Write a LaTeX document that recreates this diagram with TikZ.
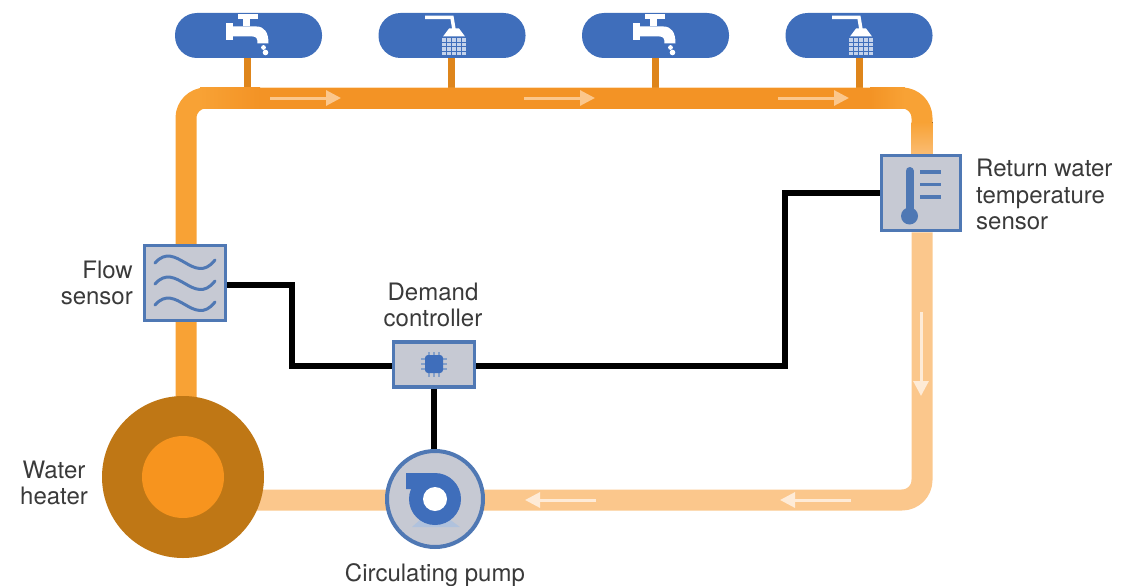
\documentclass[tikz,border=0pt]{standalone}
\usepackage{fontspec}
\setmainfont{TeX Gyre Heros}
\usetikzlibrary{arrows.meta,backgrounds}
\definecolor{hot}{HTML}{F39325}
\definecolor{warm}{HTML}{F8A235}
\definecolor{cool}{HTML}{FBC78C}
\definecolor{steel}{HTML}{C6C9D3}
\definecolor{edgeblue}{HTML}{4F78B4}
\definecolor{pillblue}{HTML}{3F6EBB}
\definecolor{heaterout}{HTML}{BF7715}
\definecolor{heaterin}{HTML}{F7941E}
\definecolor{txt}{HTML}{3A3A3A}
\tikzset{
  pipe/.style={line width=21pt,line join=round},
  stem/.style={line width=7pt,color=#1},
  wire/.style={line width=6pt,black,line join=miter},
  pill/.style={draw=none,fill=pillblue,rounded corners=22pt,minimum width=147pt,minimum height=45pt,inner sep=0pt},
  sensorbox/.style={draw=edgeblue,line width=3.5pt,fill=steel,inner sep=0pt},
  flowtip/.style={line width=3pt,-{Triangle[length=15pt,width=15pt]},color=#1},
  lbl/.style={text=txt,font=\fontsize{24}{26.5}\selectfont,align=#1,inner sep=0pt},
  wave/.style={line width=3pt,edgeblue,line cap=round},
  tick/.style={line width=3.5pt,edgeblue}
}
\begin{document}
\begin{tikzpicture}[x=1pt,y=-1pt]
\useasboundingbox (0,0) rectangle (1124,586);
% fixtures
\node[pill] (p1) at (248.5,35.5) {};
\node[pill] (p2) at (452,35.5) {};
\node[pill] (p3) at (655.5,35.5) {};
\node[pill] (p4) at (859,35.5) {};
% pipe anchors
\coordinate (tl) at (186,98);
\coordinate (tr) at (922,98);
\coordinate (br) at (922,500);
\coordinate (j1) at (247,98);
\coordinate (j2) at (451,98);
\coordinate (j3) at (655,98);
\coordinate (j4) at (859,98);
% main nodes
\node[circle,fill=heaterout,minimum size=162pt,inner sep=0pt] (heater) at (183,477) {};
\node[circle,fill=heaterin,minimum size=82pt,inner sep=0pt] (core) at (183,477) {};
\node[sensorbox,minimum width=81pt,minimum height=75pt] (flow) at (185,283) {};
\node[sensorbox,minimum width=81pt,minimum height=45pt] (ctrl) at (434,364.5) {};
\node[sensorbox,minimum width=79pt,minimum height=75pt] (ret) at (921,193) {};
\node[circle,draw=edgeblue,line width=4pt,fill=steel,minimum size=96pt,inner sep=0pt] (pump) at (435,499) {};
\begin{scope}[on background layer]
  \draw[stem=heaterin!90!black] (j1) -- (p1.south -| j1);
  \draw[stem=heaterin!90!black] (j2) -- (p2.south -| j2);
  \draw[stem=heaterin!90!black] (j3) -- (p3.south -| j3);
  \draw[stem=heaterin!90!black] (j4) -- (p4.south -| j4);
  \draw[pipe,cool,rounded corners=20pt] (ret.south -| tr) -- (br) -- (heater.center |- br);
  \draw[pipe,warm,rounded corners=20pt] (heater.center -| tl) -- (tl) -- (tr) -- (ret.north -| tr);
  \fill[top color=warm,bottom color=cool!75!warm] (911.5,122) rectangle (932.5,156);
  \fill[left color=warm,right color=hot] (200,87.5) rectangle (260,108.5);
  \fill[hot] (260,87.5) rectangle (870,108.5);
  \fill[left color=hot,right color=warm] (870,87.5) rectangle (905,108.5);
\end{scope}
% control wiring
\draw[wire] (flow.east |- 0,285) -| (292,366) -- (ctrl.west |- 0,366);
\draw[wire] (ctrl.east |- 0,366) -| (785,193) -- (ret.west |- 0,193);
\draw[wire] (ctrl.south) -- (ctrl.south |- pump.north);
% flow arrows
\coordinate (a1s) at (270,98); \coordinate (a1e) at (341,98);
\coordinate (a2s) at (524,98); \coordinate (a2e) at (595,98);
\coordinate (a3s) at (778,98); \coordinate (a3e) at (849,98);
\coordinate (a4s) at (921,312); \coordinate (a4e) at (921,396);
\coordinate (a5s) at (596,500); \coordinate (a5e) at (525,500);
\coordinate (a6s) at (851,500); \coordinate (a6e) at (780,500);
\draw[flowtip=cool] (a1s) -- (a1e);
\draw[flowtip=cool] (a2s) -- (a2e);
\draw[flowtip=cool] (a3s) -- (a3e);
\draw[flowtip=white!65!cool] (a4s) -- (a4e);
\draw[flowtip=white!65!cool] (a5s) -- (a5e);
\draw[flowtip=white!65!cool] (a6s) -- (a6e);
% icons
\tikzset{
  faucet/.pic={
    \fill[white] (-23,-12) rectangle (-16,5);
    \fill[white] (-16,-9) -- (8,-9) .. controls (16,-9) and (20,-3) .. (20,8) -- (9,8) .. controls (9,3) and (8,1) .. (4,1) -- (-16,1) -- cycle;
    \fill[white] (-6,-18) rectangle (1,-9);
    \fill[white] (-11,-21) rectangle (9,-16);
    \fill[white] (15,12) circle (2.4);
    \fill[white] (17,17) circle (2.8);
  },
  showerhead/.pic={
    \draw[white,line width=3.5pt] (-27,-18) -- (0,-18) -- (2,-6);
    \fill[white] (-9,1) -- (-3,-7) -- (7,-7) -- (13,1) -- cycle;
    \foreach \xx in {-8,-3,2,7,12} \foreach \yy in {4.5,9,13.5,18}
      \fill[white!70!pillblue] (\xx-1.6,\yy-1.6) rectangle (\xx+1.6,\yy+1.6);
  }
}
\pic at (p1.center) {faucet};
\pic at (p2.center) {showerhead};
\pic at (p3.center) {faucet};
\pic at (p4.center) {showerhead};
% flow sensor waves
\foreach \dy in {-20,1,22}
  \draw[wave] (155,283+\dy) .. controls (176,283+\dy-24) and (194,283+\dy+24) .. (215,283+\dy-3);
% chip
\foreach \dd in {-5,0,5}{
  \draw[edgeblue!70,line width=1.5pt] (434+\dd,352) -- (434+\dd,377);
  \draw[edgeblue!70,line width=1.5pt] (421,364+\dd) -- (447,364+\dd);
}
\fill[pillblue,rounded corners=3pt] (425,355) rectangle (443,373);
% thermometer
\draw[edgeblue,line width=8pt,line cap=round] (909.5,171) -- (909.5,214);
\fill[edgeblue] (909.5,216) circle (8.5);
\draw[tick] (920,172) -- (941,172);
\draw[tick] (920,184.5) -- (941,184.5);
\draw[tick] (920,197) -- (941,197);
% pump icon
\fill[white!55!edgeblue] (412,527) -- (421,519) -- (449,519) -- (460,527) -- cycle;
\fill[pillblue] (406,473) -- (435,473) -- (435,499) -- (411,497) -- (411,489) -- (406,489) -- cycle;
\fill[pillblue] (435,499) circle (26);
\fill[white] (435,499) circle (12);
% labels
\node[lbl=right,anchor=east] (lflow) at (133,283) {Flow\\sensor};
\node[lbl=center] (lctrl) at (433,305) {Demand\\controller};
\node[lbl=center] (lheat) at (54,483) {Water\\heater};
\node[lbl=left,anchor=west] (lret) at (976,194.5) {Return water\\temperature\\sensor};
\node[lbl=center] (lpump) at (435,575) {Circulating pump};
\end{tikzpicture}
\end{document}
